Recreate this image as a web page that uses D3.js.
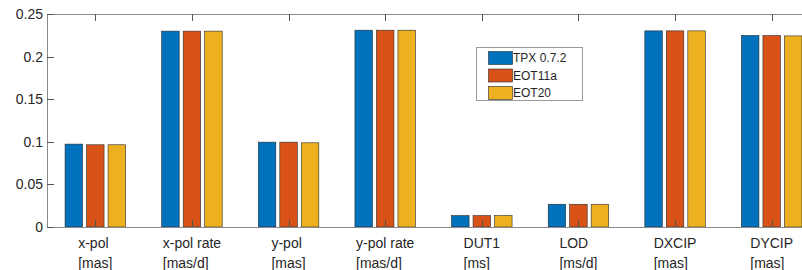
<!DOCTYPE html>
<html>
<head>
<meta charset="utf-8">
<script src="https://d3js.org/d3.v7.min.js"></script>
<style>
    body { margin: 0; background: white; }
    text { font-family: "Liberation Sans", Arial, sans-serif; fill: #262626; }
</style>
</head>
<body>
<div id="chart"></div>
<script>
// data
var categories = ["x-pol", "x-pol rate", "y-pol", "y-pol rate", "DUT1", "LOD", "DXCIP", "DYCIP"];
var units = ["[mas]", "[mas/d]", "[mas]", "[mas/d]", "[ms]", "[ms/d]", "[mas]", "[mas]"];
var seriesNames = ["TPX 0.7.2", "EOT11a", "EOT20"];
var tpx   = [0.0973, 0.2299, 0.0996, 0.2310, 0.0134, 0.0267, 0.2302, 0.2248];
var eot11 = [0.0965, 0.2299, 0.0996, 0.2310, 0.0134, 0.0267, 0.2302, 0.2247];
var eot20 = [0.0965, 0.2299, 0.0988, 0.2310, 0.0134, 0.0267, 0.2302, 0.2243];
var yTicks = [0, 0.05, 0.1, 0.15, 0.2, 0.25];
var colors = ["#0072BD", "#D95319", "#EDB120"];

var series = [tpx, eot11, eot20];
var W = 802, H = 270;
var plot = {left: 47, right: 820, top: 14, bottom: 227};
var tickLen = 7;

var svg = d3.select("#chart").append("svg")
    .attr("width", W)
    .attr("height", H);

var x = d3.scaleBand()
    .domain(categories)
    .range([plot.left, plot.right])
    .padding(0);

var inner = d3.scaleBand()
    .domain(d3.range(seriesNames.length))
    .range([-30.25, 30.25])
    .paddingInner(0.186)
    .paddingOuter(0);

var y = d3.scaleLinear()
    .domain([0, 0.25])
    .range([plot.bottom, plot.top]);

// bars
var groups = svg.append("g").selectAll("g")
    .data(categories)
    .join("g")
    .attr("transform", d => "translate(" + (x(d) + x.bandwidth() / 2) + ",0)");

groups.selectAll("rect")
    .data((d, i) => series.map((s, k) => ({k: k, v: s[i]})))
    .join("rect")
    .attr("x", d => inner(d.k))
    .attr("width", inner.bandwidth())
    .attr("y", d => y(d.v))
    .attr("height", d => y(0) - y(d.v))
    .attr("fill", d => colors[d.k])
    .attr("stroke", "#2b2b2b")
    .attr("stroke-width", 0.6);

// axes: box lines (left, top, bottom), ticks pointing inward
var axisCol = "#8a8a8a";
var ax = svg.append("g");
ax.append("line").attr("x1", plot.left).attr("x2", W).attr("y1", plot.top + 0.5).attr("y2", plot.top + 0.5)
    .attr("stroke", axisCol);
ax.append("line").attr("x1", plot.left).attr("x2", W).attr("y1", plot.bottom + 0.5).attr("y2", plot.bottom + 0.5)
    .attr("stroke", axisCol);
ax.append("line").attr("x1", plot.left + 0.5).attr("x2", plot.left + 0.5).attr("y1", plot.top).attr("y2", plot.bottom)
    .attr("stroke", axisCol);

// x ticks top and bottom
categories.forEach(function(c) {
    var cx = Math.round(x(c) + x.bandwidth() / 2) + 0.5;
    ax.append("line").attr("x1", cx).attr("x2", cx)
        .attr("y1", plot.top).attr("y2", plot.top + tickLen).attr("stroke", "#555");
    ax.append("line").attr("x1", cx).attr("x2", cx)
        .attr("y1", plot.bottom).attr("y2", plot.bottom - tickLen).attr("stroke", "#555");
});

// y ticks + labels
yTicks.forEach(function(t) {
    var ty = Math.round(y(t)) + 0.5;
    ax.append("line").attr("x1", plot.left).attr("x2", plot.left + tickLen)
        .attr("y1", ty).attr("y2", ty).attr("stroke", "#555");
    ax.append("text")
        .attr("x", plot.left - 4)
        .attr("y", ty)
        .attr("dy", "0.35em")
        .attr("text-anchor", "end")
        .style("font-size", "14px")
        .text(t);
});

// two-line x labels, lines left-aligned inside a centred block
categories.forEach(function(c, i) {
    var cx = x(c) + x.bandwidth() / 2;
    var g = ax.append("g");
    var t1 = g.append("text").attr("y", 248).style("font-size", "14px").text(c);
    var t2 = g.append("text").attr("y", 268).style("font-size", "14px").text(units[i]);
    var w = Math.max(t1.node().getComputedTextLength(), t2.node().getComputedTextLength());
    t1.attr("x", cx - w / 2);
    t2.attr("x", cx - w / 2);
});

// legend
var leg = svg.append("g").attr("transform", "translate(476,47)");
leg.append("rect").attr("x", 0.5).attr("y", 0.5).attr("width", 106).attr("height", 53)
    .attr("fill", "white").attr("stroke", "#9a9a9a");
seriesNames.forEach(function(n, k) {
    var ry = 4.5 + k * 17.5;
    leg.append("rect").attr("x", 12.5).attr("y", ry).attr("width", 24).attr("height", 13)
        .attr("fill", colors[k]).attr("stroke", "#2b2b2b").attr("stroke-width", 0.6);
    leg.append("text").attr("x", 37).attr("y", ry + 6.5).attr("dy", "0.35em")
        .style("font-size", "12px").text(n);
});
</script>
</body>
</html>
